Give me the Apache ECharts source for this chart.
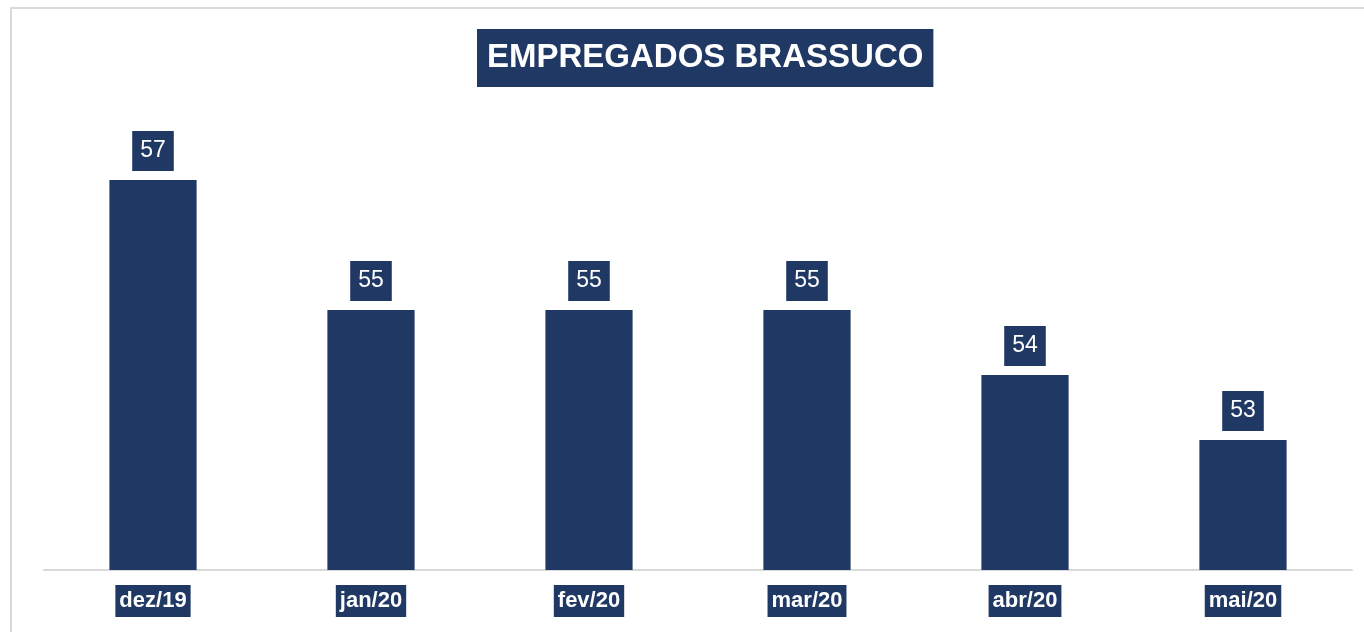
<!DOCTYPE html>
<html>
<head>
<meta charset="utf-8">
<script src="https://cdn.jsdelivr.net/npm/echarts@6/dist/echarts.min.js"></script>
<style>
html,body{margin:0;padding:0;background:#fff;}
#chart{width:1364px;height:632px;}
</style>
</head>
<body>
<div id="chart"></div>
<script>
const titleText = 'EMPREGADOS BRASSUCO';
const categories = ['dez/19', 'jan/20', 'fev/20', 'mar/20', 'abr/20', 'mai/20'];
const employees = [57, 55, 55, 55, 54, 53];

const navy = '#203864';
const font = 'Liberation Sans';

const chart = echarts.init(document.getElementById('chart'), null, {renderer: 'canvas'});
chart.setOption({
  backgroundColor: '#fff',
  animation: false,
  graphic: [{
    type: 'rect',
    shape: {x: 11, y: 8, width: 1400, height: 700},
    style: {fill: 'none', stroke: '#d9d9d9', lineWidth: 2},
    silent: true
  }],
  title: {
    text: titleText,
    left: 477,
    top: 29,
    backgroundColor: navy,
    padding: [12, 10, 12, 10],
    textStyle: {
      color: '#fff',
      fontFamily: font,
      fontWeight: 'bold',
      fontSize: 33,
      lineHeight: 34
    }
  },
  grid: {left: 44, right: 12, top: 115, bottom: 62, containLabel: false},
  xAxis: {
    type: 'category',
    data: categories,
    axisLine: {show: true, lineStyle: {color: '#d9d9d9', width: 2}},
    axisTick: {show: false},
    axisLabel: {
      color: '#fff',
      fontFamily: font,
      fontWeight: 'bold',
      fontSize: 22,
      lineHeight: 26,
      backgroundColor: navy,
      padding: [3, 4, 3, 4],
      margin: 15
    }
  },
  yAxis: {
    type: 'value',
    min: 51,
    max: 58,
    show: false,
    splitLine: {show: false}
  },
  series: [{
    type: 'bar',
    data: employees,
    barWidth: '40%',
    itemStyle: {color: navy},
    label: {
      show: true,
      position: 'top',
      distance: 9,
      color: '#fff',
      fontFamily: font,
      fontSize: 23,
      lineHeight: 26,
      backgroundColor: navy,
      padding: [7, 8, 7, 8]
    }
  }]
});
</script>
</body>
</html>
